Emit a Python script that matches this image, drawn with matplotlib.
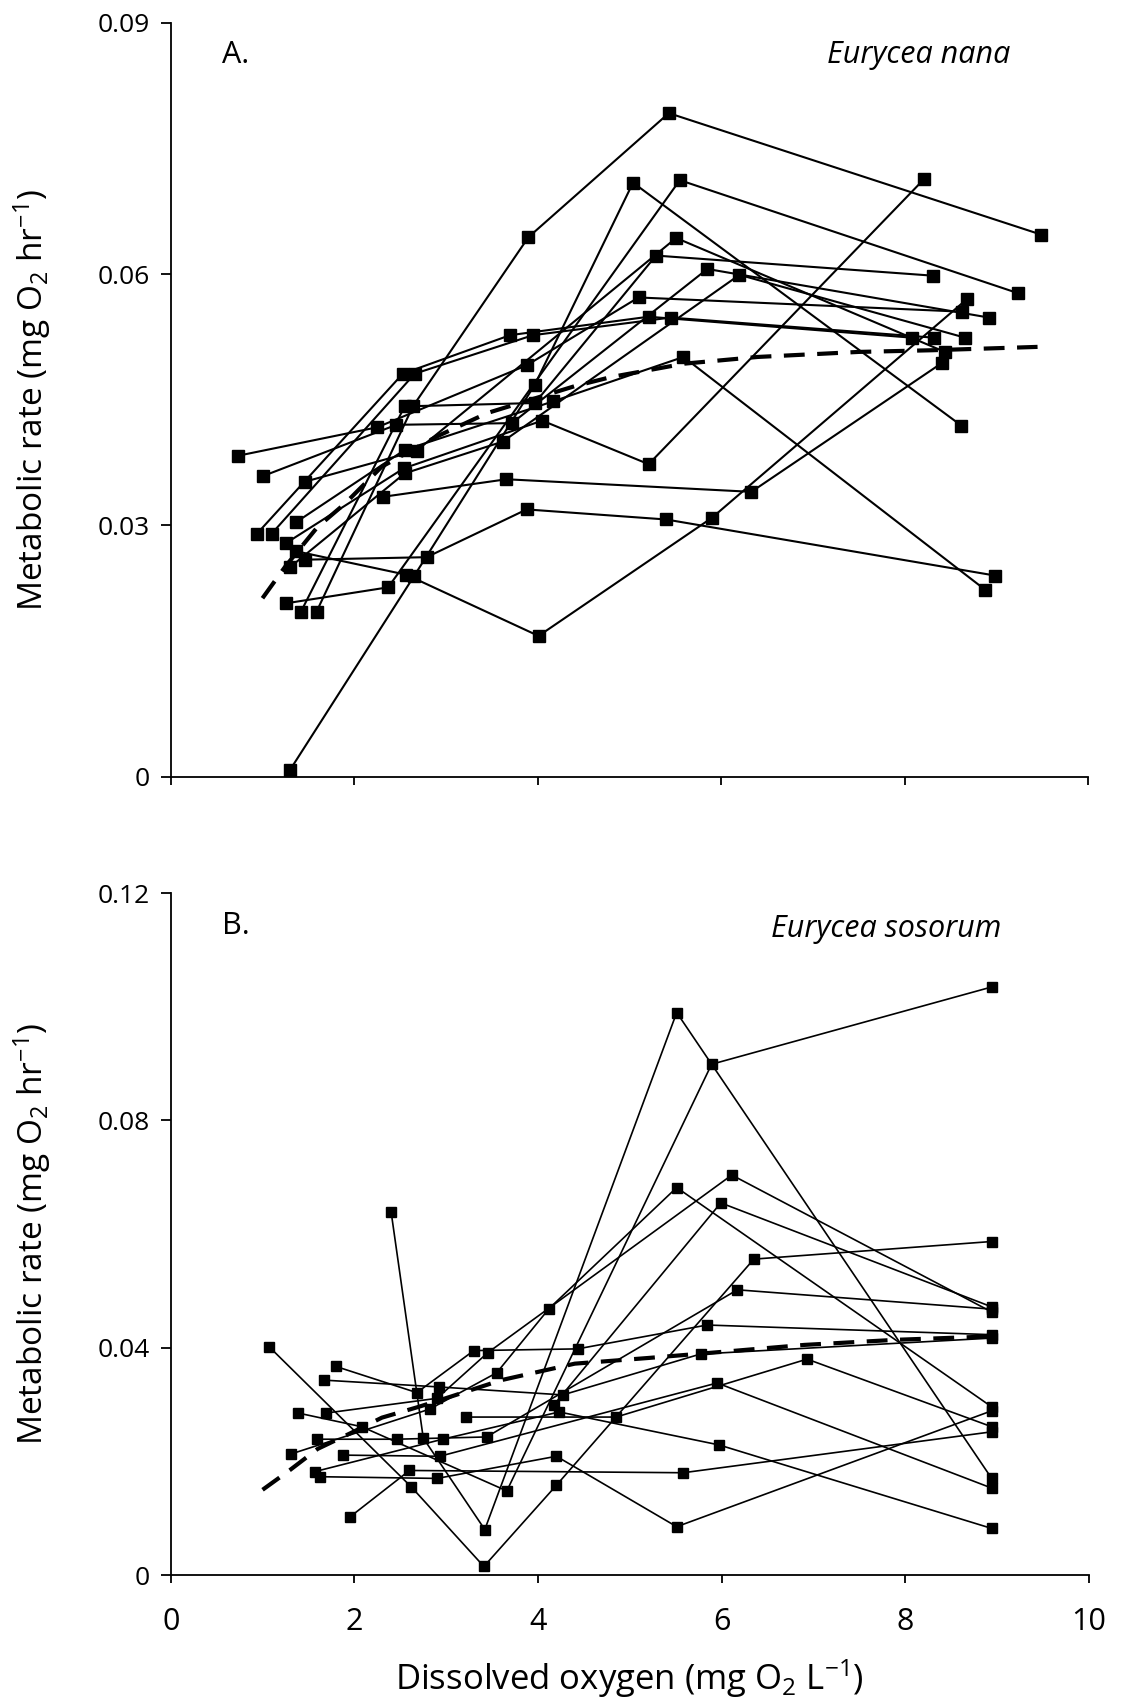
import matplotlib
matplotlib.use("Agg")
import matplotlib.pyplot as plt

plt.rcParams['font.family'] = ['Open Sans', 'DejaVu Sans']
plt.rcParams['mathtext.fontset'] = 'custom'
plt.rcParams['mathtext.rm'] = 'Open Sans'
plt.rcParams['mathtext.it'] = 'Open Sans:italic'
plt.rcParams['mathtext.default'] = 'regular'

# ---- Panel A: Eurycea nana (one list per individual) ----
nana_do = [
    [1.30, 2.65, 3.97, 5.04, 8.62],
    [1.59, 2.64, 3.90, 5.43, 9.49],
    [0.94, 2.53, 3.70, 5.21, 8.08],
    [1.10, 2.66, 3.95, 5.45, 8.32],
    [1.42, 2.55, 3.97, 5.29, 8.31],
    [0.73, 2.25, 3.88, 5.10, 8.63],
    [1.01, 2.46, 3.72, 5.85, 8.92],
    [1.37, 2.55, 4.17, 5.59, 8.88],
    [1.46, 2.68, 5.51, 8.44],
    [1.26, 2.54, 4.05, 5.21, 8.21],
    [1.30, 2.55, 3.62, 6.20, 8.66],
    [2.31, 3.66, 6.33, 8.41],
    [1.46, 2.79, 3.88, 5.40, 8.99],
    [1.26, 2.37, 5.55, 9.24],
    [1.37, 2.57, 4.01, 5.90, 8.68],
]
nana_rate = [
    [0.0008, 0.0239, 0.0468, 0.0709, 0.0419],
    [0.0197, 0.0442, 0.0644, 0.0792, 0.0647],
    [0.0290, 0.0481, 0.0527, 0.0549, 0.0524],
    [0.0290, 0.0481, 0.0527, 0.0548, 0.0524],
    [0.0197, 0.0442, 0.0446, 0.0622, 0.0598],
    [0.0383, 0.0417, 0.0491, 0.0572, 0.0555],
    [0.0359, 0.0420, 0.0422, 0.0606, 0.0548],
    [0.0304, 0.0390, 0.0448, 0.0501, 0.0223],
    [0.0352, 0.0389, 0.0643, 0.0507],
    [0.0279, 0.0368, 0.0425, 0.0373, 0.0713],
    [0.0250, 0.0362, 0.0400, 0.0599, 0.0524],
    [0.0334, 0.0355, 0.0340, 0.0494],
    [0.0259, 0.0262, 0.0319, 0.0307, 0.0240],
    [0.0207, 0.0226, 0.0712, 0.0577],
    [0.0269, 0.0241, 0.0168, 0.0309, 0.0570],
]
nana_fit_do = [1.0, 1.25, 1.6, 1.9, 2.3, 2.9, 3.45, 4.4, 4.8, 5.6, 6.4, 7.5, 8.3, 9.45]
nana_fit_rate = [0.0213, 0.0251, 0.0298, 0.0326, 0.0370, 0.0406, 0.0434, 0.0466,
                 0.0477, 0.0493, 0.0501, 0.0507, 0.0509, 0.0513]

# ---- Panel B: Eurycea sosorum ----
sosorum_do = [
    [1.07, 2.62, 3.41, 4.20, 6.35, 8.94],
    [1.80, 2.68, 3.30, 4.43, 5.84, 8.94],
    [1.67, 2.92, 4.27, 5.77, 8.94],
    [1.39, 2.08, 3.66, 5.89, 8.94],
    [1.69, 2.90, 3.45, 6.11, 8.94],
    [1.59, 2.46, 3.44, 6.17, 8.94],
    [1.31, 2.82, 3.55, 4.12, 5.51, 8.94],
    [1.88, 2.93, 5.95, 8.94],
    [1.57, 2.96, 4.23, 5.97, 8.94],
    [1.63, 2.90, 4.20, 5.51, 8.94],
    [1.95, 2.60, 5.58, 8.94],
    [2.40, 2.75, 3.42, 5.51, 8.94],
    [3.21, 4.85, 6.93, 8.94],
    [4.17, 5.99, 8.94],
]
sosorum_rate = [
    [0.0402, 0.0155, 0.0015, 0.0158, 0.0556, 0.0587],
    [0.0367, 0.0321, 0.0395, 0.0398, 0.0440, 0.0423],
    [0.0343, 0.0331, 0.0317, 0.0389, 0.0417],
    [0.0285, 0.0261, 0.0148, 0.0899, 0.1035],
    [0.0285, 0.0311, 0.0391, 0.0704, 0.0463],
    [0.0239, 0.0239, 0.0243, 0.0502, 0.0468],
    [0.0213, 0.0292, 0.0356, 0.0469, 0.0682, 0.0296],
    [0.0211, 0.0209, 0.0338, 0.0153],
    [0.0182, 0.0239, 0.0287, 0.0229, 0.0082],
    [0.0173, 0.0170, 0.0209, 0.0085, 0.0289],
    [0.0102, 0.0184, 0.0180, 0.0252],
    [0.0639, 0.0241, 0.0080, 0.0990, 0.0170],
    [0.0278, 0.0278, 0.0380, 0.0261],
    [0.0299, 0.0655, 0.0472],
]
sosorum_fit_do = [1.0, 1.3, 1.6, 1.95, 2.3, 2.7, 3.05, 3.6, 4.4, 5.2, 5.8, 6.9, 7.9, 8.94]
sosorum_fit_rate = [0.0150, 0.0185, 0.0222, 0.0249, 0.0277, 0.0296, 0.0314, 0.0343,
                    0.0372, 0.0382, 0.0390, 0.0405, 0.0414, 0.0420]

x_ticks = [0, 2, 4, 6, 8, 10]
nana_yticks = [0, 0.03, 0.06, 0.09]
nana_ylabels = ['0', '0.03', '0.06', '0.09']
sosorum_yticks = [0, 0.04, 0.08, 0.12]
sosorum_ylabels = ['0', '0.04', '0.08', '0.12']

fig = plt.figure(figsize=(11.27, 17.04), dpi=100)
axA = fig.add_axes([0.1515, 0.5442, 0.8139, 0.4425])
axB = fig.add_axes([0.1515, 0.0757, 0.8148, 0.4001])

ylabel = 'Metabolic rate (mg O$_2$ hr$^{-1}$)'


def style_axis(ax, yticks, ylabels, ymax, show_x):
    ax.set_xlim(0, 10)
    ax.set_ylim(0, ymax)
    for s in ['top', 'right']:
        ax.spines[s].set_visible(False)
    for s in ['left', 'bottom']:
        ax.spines[s].set_linewidth(1.3)
    ax.set_xticks(x_ticks)
    ax.set_yticks(yticks)
    ax.set_yticklabels(ylabels)
    ax.tick_params(axis='y', direction='out', length=7, width=1.3, labelsize=19, pad=8)
    ax.tick_params(axis='x', direction='out', length=6, width=1.3, labelsize=22, pad=17)
    if not show_x:
        ax.set_xticklabels([])
    ax.set_ylabel(ylabel, fontsize=24)
    ax.yaxis.set_label_coords(-0.128, 0.5)


# panel A
for xs, ys in zip(nana_do, nana_rate):
    axA.plot(xs, ys, '-s', color='black', lw=1.5, ms=8, clip_on=False)
axA.plot(nana_fit_do, nana_fit_rate, color='black', lw=3, dashes=(5, 3))
style_axis(axA, nana_yticks, nana_ylabels, 0.09, False)
axA.text(0.056, 0.947, 'A.', transform=axA.transAxes, fontsize=22)
axA.text(0.915, 0.947, 'Eurycea nana', transform=axA.transAxes, fontsize=22,
         style='italic', ha='right')

# panel B
for xs, ys in zip(sosorum_do, sosorum_rate):
    axB.plot(xs, ys, '-s', color='black', lw=1.2, ms=7.5, clip_on=False)
axB.plot(sosorum_fit_do, sosorum_fit_rate, color='black', lw=3, dashes=(5, 3))
style_axis(axB, sosorum_yticks, sosorum_ylabels, 0.12, True)
axB.text(0.056, 0.94, 'B.', transform=axB.transAxes, fontsize=22)
axB.text(0.905, 0.936, 'Eurycea sosorum', transform=axB.transAxes, fontsize=22,
         style='italic', ha='right')
axB.set_xlabel('Dissolved oxygen (mg O$_2$ L$^{-1}$)', fontsize=25)
axB.xaxis.set_label_coords(0.5, -0.12)

fig.savefig('out.png', dpi=100)
